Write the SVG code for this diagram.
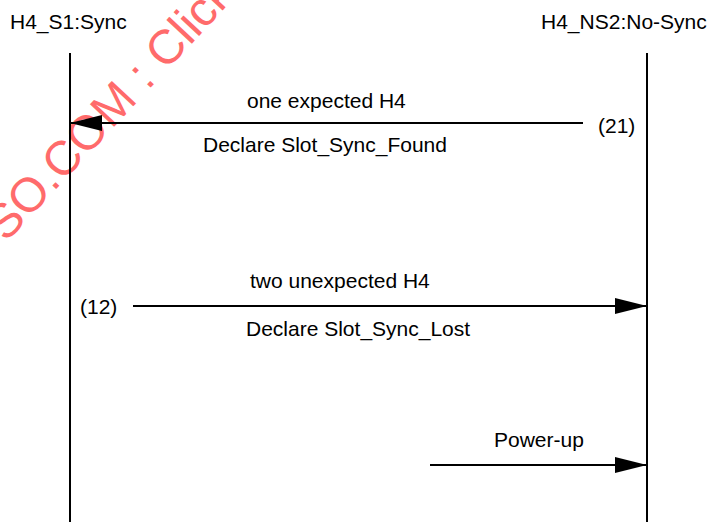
<svg xmlns="http://www.w3.org/2000/svg" width="712" height="522" viewBox="0 0 712 522">
<style>
.t{font-family:"Liberation Sans",Arial,sans-serif;font-size:21px;fill:#000}
.life{stroke:#000;stroke-width:2;fill:none}
.msg{stroke:#000;stroke-width:2;fill:none}
.wm{font-family:"Liberation Sans",Arial,sans-serif;font-size:48px;fill:#ff6b6b}
</style>
<defs>
<marker id="ah" markerWidth="34" markerHeight="18" refX="32" refY="9" orient="auto" markerUnits="userSpaceOnUse">
<path d="M0,1 L32,9 L0,17 Z" fill="#000"/>
</marker>
</defs>
<rect width="712" height="522" fill="#fff"/>
<text class="wm" transform="translate(6,243) rotate(-47)">SO.COM : Click</text>
<g id="node-s1">
<text class="t" x="10" y="29">H4_S1:Sync</text>
<line class="life" x1="70" y1="53" x2="70" y2="522"/>
</g>
<g id="node-ns2">
<text class="t" x="541" y="29">H4_NS2:No-Sync</text>
<line class="life" x1="647" y1="53" x2="647" y2="522"/>
</g>
<g id="connectors">
<line class="msg" x1="583" y1="123" x2="70" y2="123" marker-end="url(#ah)"/>
<line class="msg" x1="133" y1="306" x2="647" y2="306" marker-end="url(#ah)"/>
<line class="msg" x1="430" y1="465" x2="647" y2="465" marker-end="url(#ah)"/>
</g>
<g id="labels">
<text class="t" x="247" y="108">one expected H4</text>
<text class="t" x="598" y="133">(21)</text>
<text class="t" x="203" y="152">Declare Slot_Sync_Found</text>
<text class="t" x="250" y="288">two unexpected H4</text>
<text class="t" x="80" y="314">(12)</text>
<text class="t" x="246" y="336">Declare Slot_Sync_Lost</text>
<text class="t" x="494" y="447">Power-up</text>
</g>
</svg>
